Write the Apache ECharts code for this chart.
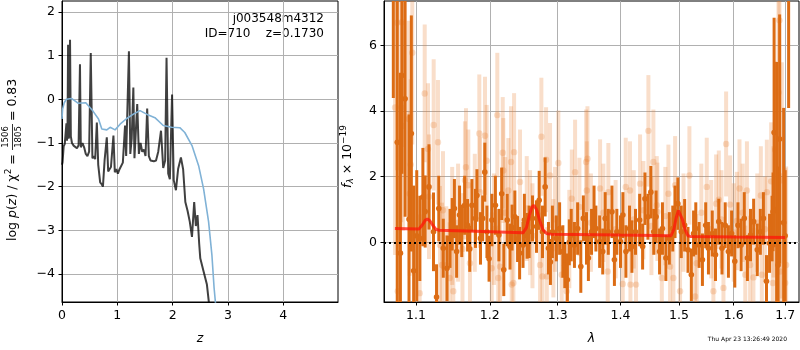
<!DOCTYPE html>
<html>
<head>
<meta charset="utf-8">
<title>zfit</title>
<script src="https://cdn.jsdelivr.net/npm/echarts@6/dist/echarts.min.js"></script>
</head>
<body style="margin:0px;">
<div id="main" style="width:800px;height:350px;"></div>
<script type="text/javascript">
// left panel: log p(z) and chi2 curves
var pzZ = [0.00,0.01,0.03,0.05,0.07,0.08,0.09,0.10,0.11,0.12,0.13,0.145,0.16,0.18,0.21,0.24,0.27,0.30,0.325,0.34,0.37,0.40,0.43,0.46,0.49,0.52,0.55,0.58,0.60,0.63,0.655,0.69,0.72,0.74,0.77,0.81,0.835,0.86,0.885,0.93,0.955,0.98,1.01,1.04,1.07,1.10,1.14,1.16,1.185,1.21,1.235,1.26,1.29,1.31,1.36,1.39,1.42,1.45,1.48,1.51,1.54,1.57,1.60,1.63,1.66,1.70,1.74,1.79,1.83,1.865,1.89,1.92,1.95,1.99,2.02,2.06,2.10,2.15,2.19,2.23,2.27,2.31,2.35,2.39,2.42,2.45,2.48,2.50,2.56,2.62,2.66,2.70];
var pzVal = [-1.50,-1.44,-1.08,-1.02,-0.98,-0.55,-0.95,-0.70,1.25,-0.90,-0.85,1.36,-0.85,-1.00,-1.06,-1.10,-1.12,-1.05,0.80,-1.10,-1.00,-1.10,-1.25,-1.30,-1.20,1.06,-1.35,-1.30,-1.37,-0.53,-1.50,-1.90,-1.95,-2.00,-1.40,-0.87,-1.65,-1.60,-1.55,-0.83,-1.67,-1.60,-1.70,-1.60,-1.62,-1.45,-0.60,-1.30,-1.30,1.10,-1.25,-0.90,0.27,-1.35,-0.11,-1.25,-1.00,-1.20,-1.15,-1.30,-0.21,-1.30,-1.40,-1.38,-1.42,-1.40,-1.20,-0.72,-1.57,-1.40,0.95,-1.70,-1.83,0.11,-1.85,-2.08,-1.59,-1.33,-1.60,-2.35,-2.55,-2.80,-3.15,-2.35,-2.90,-2.65,-3.30,-3.64,-3.94,-4.24,-4.70,-5.50];
var chiZ = [0.00,0.01,0.04,0.08,0.17,0.29,0.43,0.56,0.66,0.72,0.81,0.87,0.96,1.05,1.17,1.29,1.41,1.53,1.68,1.83,1.98,2.13,2.22,2.35,2.47,2.56,2.65,2.71,2.75,2.80];
var chiVal = [-0.45,-0.23,-0.08,0.00,0.02,-0.09,-0.08,-0.27,-0.45,-0.68,-0.70,-0.64,-0.70,-0.57,-0.44,-0.34,-0.26,-0.34,-0.42,-0.60,-0.64,-0.65,-0.76,-1.06,-1.52,-2.05,-2.80,-3.56,-4.32,-5.0];

// right panel: spectrum [lambda, flux, err]
var specA = [
[1.071,9.0,4.6],[1.076,3.05,5.8],[1.080,-0.33,5.5],[1.082,5.09,3.0],[1.086,4.38,3.6],[1.091,0.70,3.2],[1.094,3.32,3.6],[1.097,-0.87,2.6],
[1.101,0.2,2.0],[1.105,0.12,1.3],[1.109,1.38,1.5],[1.112,0.94,1.1],[1.117,1.69,1.3],[1.123,0.32,1.2],[1.127,-1.67,1.0],[1.130,1.03,1.0],
[1.136,-0.18,0.9],[1.141,-0.79,1.0],[1.145,0.12,0.9],[1.148,0.55,0.8],[1.151,1.03,0.9],[1.154,-0.28,0.8],[1.158,0.83,0.9],[1.161,0.35,0.8],
[1.165,1.13,0.9],[1.169,0.52,0.8],[1.172,-0.2,0.7],[1.175,1.13,0.8],[1.180,0.73,0.9],[1.182,1.43,0.8],[1.187,0.12,0.8],[1.190,0.73,0.7],
[1.193,2.14,0.9],[1.196,0.32,0.8],[1.199,-0.5,0.7],[1.203,0.68,0.8],[1.208,1.13,0.9],[1.213,0.22,0.8],[1.217,1.48,0.8],[1.220,-0.84,0.8],
[1.225,0.68,0.8],[1.229,-0.13,0.7],[1.232,0.45,0.7],[1.236,0.78,0.8],[1.240,0.1,0.7],[1.243,-0.33,0.8],[1.248,-0.08,0.7],[1.250,0.68,0.8],
[1.254,0.2,0.7],[1.257,0.32,0.8],[1.262,0.73,0.7],[1.268,0.48,0.8],[1.272,1.28,0.9],[1.277,0.32,0.8],[1.281,1.69,0.9],[1.286,-0.18,0.8],
[1.289,-0.6,0.7],[1.292,0.32,0.8],[1.298,0.12,0.7],[1.303,0.42,0.8],[1.308,-0.28,0.8],[1.311,-0.7,0.7],[1.315,-1.14,0.8],[1.318,0.0,0.7],
[1.321,0.22,0.8],[1.326,-0.08,0.7],[1.331,0.42,0.8],[1.336,-0.74,0.8],[1.340,0.73,0.7],[1.345,0.12,0.8],[1.348,-0.48,0.7],[1.353,0.32,0.7],
[1.357,0.93,0.8],[1.360,0.42,0.7],[1.366,0.02,0.8],[1.371,-0.28,0.7],[1.375,0.73,0.8],[1.380,0.32,0.7],[1.386,0.93,0.8],[1.390,-0.53,0.8],
[1.394,0.32,0.7],[1.400,0.02,0.8],[1.404,0.83,0.7],[1.409,-0.28,0.8],[1.415,0.42,0.7],[1.419,-0.13,0.8],[1.425,0.32,0.7],[1.432,0.68,0.8],
[1.437,-0.13,0.7],[1.441,1.33,0.8],[1.446,0.78,0.7],[1.451,1.53,0.8],[1.456,0.32,0.7],[1.460,0.78,0.8],[1.466,-0.28,0.7],[1.471,0.42,0.8],
[1.477,-0.48,0.7],[1.483,0.12,0.8],[1.489,0.42,0.7],[1.493,0.93,0.8],[1.498,1.18,0.8],[1.504,0.32,0.8],[1.510,0.52,0.8],[1.516,-0.23,0.7],
[1.522,-0.99,0.8],[1.526,0.27,0.7],[1.530,0.42,0.8],[1.536,-0.08,0.7],[1.542,-0.53,0.8],[1.548,0.52,0.7],[1.553,-0.18,0.8],[1.560,0.27,0.7],
[1.566,-0.38,0.8],[1.572,0.63,0.7],[1.578,-0.18,0.8],[1.584,0.52,0.7],[1.590,-0.28,0.8],[1.596,0.27,0.7],[1.602,-0.58,0.8],[1.608,0.52,0.7],
[1.614,-0.08,0.8],[1.620,0.73,0.8],[1.626,-0.48,0.7],[1.632,0.22,0.8],[1.638,0.63,0.7],[1.645,-0.23,0.8],[1.651,0.32,0.7],[1.657,0.73,0.8],
[1.663,-1.19,0.8],[1.669,-0.03,0.9],[1.674,0.42,1.0],[1.676,0.93,1.2],[1.678,3.35,3.5],[1.683,1.0,4.5],[1.686,-0.69,3.0],[1.689,3.15,3.8],
[1.697,0.6,3.5],[1.700,0.2,2.0],[1.707,8.5,4.4]
];
var specB = [
[1.0732,4.11,4.5],[1.0758,6.7,4.5],[1.0767,-1.49,3.5],[1.0810,4.11,3.5],[1.0819,6.71,3.8],[1.0832,3.55,3.2],[1.0906,3.76,3.0],[1.0919,1.48,2.5],
[1.0932,2.37,2.6],[1.0952,5.78,2.8],[1.1048,-1.55,2.4],[1.1114,4.54,2.1],[1.1157,2.85,2.0],[1.1170,1.39,1.9],[1.1232,3.58,2.0],[1.1289,3.05,1.9],
[1.1316,-0.08,1.8],[1.1343,-0.69,1.9],[1.1356,0.98,1.8],[1.1400,-0.70,1.8],[1.1446,-1.09,1.7],[1.148,0.5,1.8],[1.1495,-1.49,1.7],[1.156,0.6,1.8],
[1.162,-0.2,1.7],[1.1654,1.89,1.8],[1.1668,2.29,1.8],[1.1700,1.74,1.7],[1.1723,-0.64,1.7],[1.179,0.9,1.8],[1.1853,3.32,1.8],[1.1863,1.53,1.7],
[1.1933,3.25,1.8],[1.1956,2.49,1.7],[1.2028,-0.79,1.7],[1.206,0.4,1.7],[1.2107,3.88,1.9],[1.2121,-1.09,1.6],[1.2146,-0.74,1.6],[1.2185,2.73,1.7],
[1.2193,2.19,1.6],[1.222,0.9,1.7],[1.2266,1.58,1.6],[1.2305,2.45,1.7],[1.2315,-1.29,1.6],[1.2339,-1.24,1.6],[1.2349,2.75,1.8],[1.2436,1.84,1.6],
[1.2535,1.03,1.6],[1.2584,0.6,1.6],[1.262,0.2,1.6],[1.2733,-0.69,1.6],[1.2753,3.22,1.8],[1.2768,-1.04,1.6],[1.2824,2.52,1.6],[1.2835,-1.04,1.5],
[1.2884,2.04,1.6],[1.2935,-0.18,1.5],[1.296,0.7,1.6],[1.3011,2.42,1.6],[1.3063,-0.99,1.5],[1.3141,-1.49,1.5],[1.318,0.1,1.5],[1.3219,1.33,1.5],
[1.3270,2.14,1.6],[1.3338,1.08,1.5],[1.3444,2.45,1.6],[1.3455,1.58,1.5],[1.3465,2.55,1.6],[1.352,0.6,1.5],[1.3667,1.64,1.5],[1.372,0.9,1.5],
[1.3791,-0.89,1.5],[1.3801,1.53,1.5],[1.392,0.4,1.5],[1.4037,-1.27,1.5],[1.4087,1.69,1.5],[1.4158,1.58,1.5],[1.4165,-1.29,1.5],[1.422,0.7,1.5],
[1.4259,-1.29,1.5],[1.4327,1.79,1.5],[1.4383,0.98,1.5],[1.4468,3.40,1.7],[1.452,0.5,1.5],[1.4554,2.45,1.6],[1.4612,1.13,1.5],[1.4623,0.93,1.5],
[1.4699,-1.09,1.5],[1.476,0.8,1.5],[1.4814,1.48,1.5],[1.4843,-0.74,1.5],[1.4901,-1.09,1.5],[1.4931,1.74,1.5],[1.5019,-1.49,1.5],[1.508,0.6,1.5],
[1.5185,2.04,1.5],[1.5287,-1.65,1.5],[1.5317,-0.64,1.5],[1.540,0.9,1.5],[1.5499,1.69,1.5],[1.558,0.4,1.5],[1.5621,-1.49,1.5],[1.5671,1.18,1.5],
[1.5721,1.30,1.5],[1.577,0.7,1.5],[1.5807,-1.39,1.5],[1.5857,3.0,1.6],[1.5932,1.15,1.5],[1.600,0.3,1.5],[1.6059,0.65,1.5],[1.6109,1.64,1.5],
[1.617,0.9,1.5],[1.6219,-0.99,1.5],[1.6251,1.58,1.5],[1.6312,-0.69,1.5],[1.6376,-1.07,1.5],[1.645,0.6,1.5],[1.6520,1.43,1.5],[1.6539,-0.99,1.5],
[1.660,0.4,1.6],[1.6637,1.53,1.6],[1.6722,1.86,1.8],[1.6755,-1.24,1.9],[1.6768,0.93,2.0],[1.6801,2.82,2.7],[1.6867,4.57,3.2],[1.6886,6.77,3.6],
[1.6900,-0.89,3.0],[1.6934,1.89,3.6],[1.7000,-1.24,3.5],[1.7020,-0.69,3.0]
];
var modelLam = [1.073,1.104,1.108,1.112,1.115,1.118,1.122,1.126,1.130,1.180,1.248,1.253,1.257,1.261,1.264,1.268,1.273,1.278,1.284,1.290,1.400,1.486,1.491,1.495,1.499,1.502,1.506,1.511,1.516,1.520,1.600,1.700];
var modelFlux = [0.42,0.41,0.52,0.67,0.71,0.66,0.52,0.40,0.37,0.34,0.29,0.45,0.80,1.07,1.13,1.00,0.65,0.37,0.26,0.25,0.22,0.20,0.40,0.75,0.97,0.95,0.70,0.38,0.20,0.18,0.16,0.15];
var lamTicks = [1.1,1.2,1.3,1.4,1.5,1.6,1.7];
var fluxTicks = [0,2,4,6];
var pzXTicks = [0,1,2,3,4];
var pzYTicks = [-4,-3,-2,-1,0,1,2];

var FONT = 'DejaVu Sans';
var orange = 'rgb(220,108,20)';
var orangeLight = 'rgba(232,128,50,0.26)';

function minus(v) { return String(v).replace('-', '\u2212'); }

function errBars(color, barW, r) {
    return function (params, api) {
        var x = api.value(0), y = api.value(1), e = api.value(2);
        var c = api.coord([x, y]);
        var t = api.coord([x, y + e]);
        var b = api.coord([x, y - e]);
        return {
            type: 'group',
            children: [
                {type: 'line', shape: {x1: c[0], y1: t[1], x2: c[0], y2: b[1]}, style: {stroke: color, lineWidth: barW}},
                {type: 'circle', shape: {cx: c[0], cy: c[1], r: r}, style: {fill: color}}
            ]
        };
    };
}

function lnData(pts) {
    return pts.map(function (p) { return [Math.log(p[0]), p[1], p[2]]; });
}

var axLabel = {color: '#000', fontSize: 12.5, fontFamily: FONT, margin: 7};
var axTick = {show: true, length: 3.5, inside: false, lineStyle: {color: '#000', width: 1}};
var axLine = {show: true, onZero: false, lineStyle: {color: '#000', width: 1}};
var split = {show: true, lineStyle: {color: '#b0b0b0', width: 1}};

var myChart = echarts.init(document.getElementById('main'));
myChart.setOption({
    animation: false,
    backgroundColor: '#fff',
    grid: [
        {left: 62, top: 1, width: 276, height: 303, show: true, borderColor: '#000', borderWidth: 1, backgroundColor: 'transparent'},
        {left: 384, top: 1, width: 415, height: 303, show: true, borderColor: '#000', borderWidth: 1, backgroundColor: 'transparent'}
    ],
    xAxis: [
        {
            gridIndex: 0, type: 'value', min: 0, max: 4.99,
            axisLine: axLine,
            axisTick: Object.assign({customValues: pzXTicks}, axTick),
            axisLabel: Object.assign({customValues: pzXTicks, formatter: minus}, axLabel),
            splitLine: split,
            name: 'z', nameLocation: 'middle', nameGap: 30,
            nameTextStyle: {fontSize: 12.5, fontStyle: 'italic', fontFamily: FONT, color: '#000'}
        },
        {
            gridIndex: 1, type: 'value', min: Math.log(1.0593), max: Math.log(1.728),
            axisLine: axLine,
            axisTick: Object.assign({customValues: lamTicks.map(Math.log)}, axTick),
            axisLabel: Object.assign({customValues: lamTicks.map(Math.log), formatter: function (v) { return Math.exp(v).toFixed(1); }}, axLabel),
            splitLine: split,
            name: 'λ', nameLocation: 'middle', nameGap: 30,
            nameTextStyle: {fontSize: 12.5, fontStyle: 'italic', fontFamily: FONT, color: '#000'}
        }
    ],
    yAxis: [
        {
            gridIndex: 0, type: 'value', min: -4.64, max: 2.25,
            axisLine: axLine,
            axisTick: Object.assign({customValues: pzYTicks}, axTick),
            axisLabel: Object.assign({customValues: pzYTicks, formatter: minus}, axLabel),
            splitLine: split
        },
        {
            gridIndex: 1, type: 'value', min: -1.82, max: 7.36,
            axisLine: axLine,
            axisTick: Object.assign({customValues: fluxTicks}, axTick),
            axisLabel: Object.assign({customValues: fluxTicks, formatter: minus}, axLabel),
            splitLine: split
        }
    ],
    series: [
        {
            type: 'line', xAxisIndex: 0, yAxisIndex: 0, showSymbol: false, clip: true,
            data: pzZ.map(function (z, i) { return [z, pzVal[i]]; }),
            lineStyle: {color: 'rgba(0,0,0,0.75)', width: 2}
        },
        {
            type: 'line', xAxisIndex: 0, yAxisIndex: 0, showSymbol: false, clip: true,
            data: chiZ.map(function (z, i) { return [z, chiVal[i]]; }),
            lineStyle: {color: 'rgb(128,178,214)', width: 1.6}
        },
        {
            type: 'custom', xAxisIndex: 1, yAxisIndex: 1, clip: true,
            renderItem: errBars(orangeLight, 4, 3.2),
            encode: {x: 0, y: 1},
            data: lnData(specB)
        },
        {
            type: 'custom', xAxisIndex: 1, yAxisIndex: 1, clip: true,
            renderItem: errBars(orange, 3, 2.8),
            encode: {x: 0, y: 1},
            data: lnData(specA)
        },
        {
            type: 'line', xAxisIndex: 1, yAxisIndex: 1, showSymbol: false, clip: true,
            data: modelLam.map(function (l, i) { return [Math.log(l), modelFlux[i]]; }),
            lineStyle: {color: 'rgba(255,20,10,0.75)', width: 3},
            markLine: {
                silent: true, symbol: ['none', 'none'], label: {show: false},
                lineStyle: {color: '#000', type: [2, 3], width: 2},
                data: [{yAxis: 0}]
            }
        }
    ],
    graphic: [
        {type: 'text', right: 476, top: 13, style: {text: 'j003548m4312', fontSize: 12, fontFamily: FONT, fill: '#000'}},
        {type: 'text', right: 476, top: 28, style: {text: 'ID=710    z=0.1730', fontSize: 12, fontFamily: FONT, fill: '#000'}},
        {
            type: 'text', x: 13, y: 241, rotation: Math.PI / 2,
            style: {
                text: '{r|log }{i|p}{r|(}{i|z}{r|) / χ}{s|2}{r| =}',
                align: 'left', verticalAlign: 'middle', fill: '#000',
                rich: {
                    r: {fontSize: 12.5, fontFamily: FONT},
                    i: {fontSize: 12.5, fontFamily: FONT, fontStyle: 'italic'},
                    s: {fontSize: 9, fontFamily: FONT, padding: [0, 0, 9, 0]}
                }
            }
        },
        {type: 'text', x: 6, y: 137, rotation: Math.PI / 2, style: {text: '1506', fontSize: 8.5, fontFamily: FONT, fill: '#000', align: 'center', verticalAlign: 'middle'}},
        {type: 'text', x: 19, y: 137, rotation: Math.PI / 2, style: {text: '1805', fontSize: 8.5, fontFamily: FONT, fill: '#000', align: 'center', verticalAlign: 'middle'}},
        {type: 'line', shape: {x1: 12.5, y1: 150, x2: 12.5, y2: 124}, style: {stroke: '#000', lineWidth: 0.8}},
        {
            type: 'text', x: 13, y: 121, rotation: Math.PI / 2,
            style: {text: '= 0.83', fontSize: 12.5, fontFamily: FONT, fill: '#000', align: 'left', verticalAlign: 'middle'}
        },
        {
            type: 'text', x: 348, y: 188, rotation: Math.PI / 2,
            style: {
                text: '{i|f}{b|λ}{r| × 10}{s|\u221219}',
                align: 'left', verticalAlign: 'middle', fill: '#000',
                rich: {
                    r: {fontSize: 12.5, fontFamily: FONT},
                    i: {fontSize: 12.5, fontFamily: FONT, fontStyle: 'italic'},
                    b: {fontSize: 9, fontFamily: FONT, fontStyle: 'italic', padding: [6, 0, 0, 0]},
                    s: {fontSize: 9, fontFamily: FONT, padding: [0, 0, 9, 0]}
                }
            }
        },
        {type: 'text', right: 13, top: 336, style: {text: 'Thu Apr 23 13:26:49 2020', fontSize: 6, fontFamily: FONT, fill: '#000'}}
    ]
});
</script>
</body>
</html>
